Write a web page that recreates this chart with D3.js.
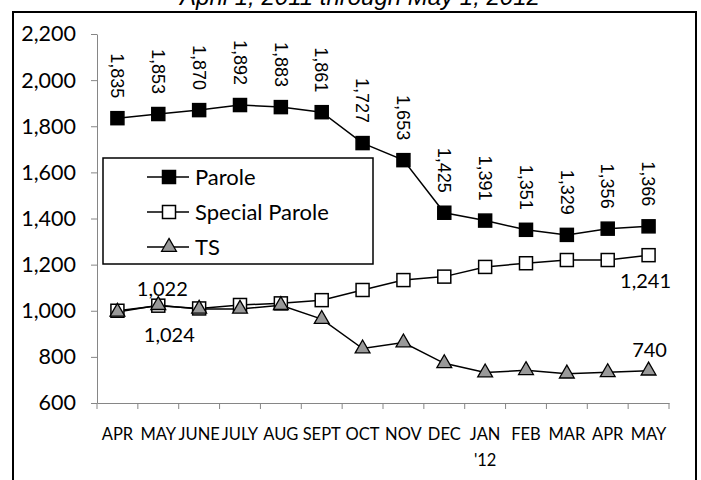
<!DOCTYPE html>
<meta charset="utf-8">
<style>

body {
  margin: 0;
  background: #fff;
}

.frame {
  fill: none;
  stroke: #000;
  stroke-width: 2px;
}

.axis path,
.axis line {
  stroke: #868686;
  stroke-width: 1px;
  fill: none;
}

.axis text {
  font-family: Lato, "Open Sans", sans-serif;
  fill: #000;
}

.series {
  fill: none;
  stroke: #000;
  stroke-width: 1.5px;
}

.lbl {
  font-family: Lato, sans-serif;
  font-size: 20px;
  fill: #000;
}

.rot {
  font-family: "Liberation Sans", Arial, sans-serif;
  font-size: 18px;
  fill: #000;
}

</style>
<script src="https://d3js.org/d3.v7.min.js"></script>
<body>
<script>

var width = 701,
    height = 480;

var months = ["APR", "MAY", "JUNE", "JULY", "AUG", "SEPT", "OCT", "NOV", "DEC", "JAN|'12", "FEB", "MAR", "APR", "MAY"];

var parole = [1835, 1853, 1870, 1892, 1883, 1861, 1727, 1653, 1425, 1391, 1351, 1329, 1356, 1366];
var specialParole = [1000, 1022, 1010, 1025, 1032, 1046, 1090, 1133, 1148, 1190, 1206, 1220, 1220, 1241];
var ts = [995, 1024, 1008, 1008, 1024, 964, 836, 862, 772, 732, 742, 727, 733, 740];

var yTicks = [600, 800, 1000, 1200, 1400, 1600, 1800, 2000, 2200];
var legendNames = ["Parole", "Special Parole", "TS"];
var title = "April 1, 2011 through May 1, 2012";

var svg = d3.select("body").append("svg")
    .attr("width", width)
    .attr("height", height);

svg.append("rect")
    .attr("class", "frame")
    .attr("x", 13)
    .attr("y", 12)
    .attr("width", 683)
    .attr("height", 480);

// title, cut off by the top edge as in the original
svg.append("text")
    .attr("x", 360)
    .attr("y", 5)
    .attr("text-anchor", "middle")
    .style("font-family", "'Liberation Sans', Arial, sans-serif")
    .style("font-style", "italic")
    .style("font-size", "24px")
    .text(title);

var x = d3.scaleBand()
    .domain(d3.range(months.length))
    .range([97, 669]);

var y = d3.scaleLinear()
    .domain([600, 2200])
    .range([403, 34]);

var cx = function(i) { return x(i) + x.bandwidth() / 2; };

// y axis
var yAxis = svg.append("g")
    .attr("class", "axis")
    .attr("transform", "translate(97,0)")
    .call(d3.axisLeft(y).tickValues(yTicks).tickFormat(d3.format(",")).tickSize(6).tickSizeOuter(0).tickPadding(15));
yAxis.selectAll("text").style("font-size", "21.5px");

// x axis (labels only, ticks between categories)
var xAxis = svg.append("g")
    .attr("class", "axis")
    .attr("transform", "translate(0,403)")
    .call(d3.axisBottom(x).tickSize(0).tickSizeOuter(0).tickFormat(""));

xAxis.selectAll(".between")
    .data(d3.range(months.length + 1))
  .enter().append("line")
    .attr("x1", function(i) { return i < months.length ? x(i) : x.range()[1]; })
    .attr("x2", function(i) { return i < months.length ? x(i) : x.range()[1]; })
    .attr("y1", 0)
    .attr("y2", 6);

var xl = xAxis.selectAll(".mlbl")
    .data(months)
  .enter().append("text")
    .attr("text-anchor", "middle")
    .style("font-size", "16.5px")
    .attr("transform", function(d, i) { return "translate(" + cx(i) + ",37)"; });

xl.selectAll("tspan")
    .data(function(d) { return d.split("|"); })
  .enter().append("tspan")
    .attr("x", 0)
    .attr("dy", function(d, j) { return j ? 26 : 0; })
    .text(function(d) { return d; });

// series
var line = d3.line()
    .x(function(d, i) { return cx(i); })
    .y(function(d) { return y(d); });

[parole, specialParole, ts].forEach(function(s) {
  svg.append("path")
      .datum(s)
      .attr("class", "series")
      .attr("d", line);
});

var sq = 13;

function squares(data, fill) {
  svg.selectAll(null)
      .data(data)
    .enter().append("rect")
      .attr("x", function(d, i) { return cx(i) - sq / 2; })
      .attr("y", function(d) { return y(d) - sq / 2; })
      .attr("width", sq)
      .attr("height", sq)
      .attr("fill", fill)
      .attr("stroke", "#000")
      .attr("stroke-width", 1.5);
}

var tri = d3.symbol().type(d3.symbolTriangle).size(95);

squares(specialParole, "#fff");

svg.selectAll(null)
    .data(ts)
  .enter().append("path")
    .attr("d", tri)
    .attr("transform", function(d, i) { return "translate(" + cx(i) + "," + y(d) + ")"; })
    .attr("fill", "#999")
    .attr("stroke", "#000")
    .attr("stroke-width", 1.3);

squares(parole, "#000");

// parole labels (rotated)
svg.selectAll(null)
    .data(parole)
  .enter().append("text")
    .attr("class", "rot")
    .attr("text-anchor", "end")
    .attr("dy", "0.35em")
    .attr("transform", function(d, i) { return "translate(" + cx(i) + "," + (y(d) - 20) + ") rotate(90)"; })
    .text(d3.format(","));

// other labels
var fmt = d3.format(",");
svg.append("text").attr("class", "lbl").attr("text-anchor", "middle")
    .attr("x", cx(1) + 4).attr("y", y(specialParole[1]) - 10).text(fmt(specialParole[1]));
svg.append("text").attr("class", "lbl").attr("text-anchor", "middle")
    .attr("x", cx(1) + 11).attr("y", y(ts[1]) + 37).text(fmt(ts[1]));
svg.append("text").attr("class", "lbl").attr("text-anchor", "middle")
    .attr("x", cx(13) - 3).attr("y", y(specialParole[13]) + 33).text(fmt(specialParole[13]));
svg.append("text").attr("class", "lbl").attr("text-anchor", "middle")
    .attr("x", cx(13) + 1).attr("y", y(ts[13]) - 14).text(fmt(ts[13]));

// legend
var legend = svg.append("g");

legend.append("rect")
    .attr("x", 103)
    .attr("y", 158)
    .attr("width", 270)
    .attr("height", 106)
    .attr("fill", "#fff")
    .attr("stroke", "#000")
    .attr("stroke-width", 1.5);

var item = legend.selectAll(".item")
    .data(legendNames)
  .enter().append("g")
    .attr("transform", function(d, i) { return "translate(169," + (177 + i * 35) + ")"; });

item.append("line")
    .attr("x1", -22).attr("x2", 20)
    .attr("stroke", "#000")
    .attr("stroke-width", 1.5);

item.each(function(d, i) {
  var g = d3.select(this);
  if (i < 2) {
    g.append("rect")
        .attr("x", -sq / 2).attr("y", -sq / 2)
        .attr("width", sq).attr("height", sq)
        .attr("fill", i === 0 ? "#000" : "#fff")
        .attr("stroke", "#000")
        .attr("stroke-width", 1.5);
  } else {
    g.append("path")
        .attr("d", tri)
        .attr("fill", "#999")
        .attr("stroke", "#000")
        .attr("stroke-width", 1.3);
  }
});

item.append("text")
    .attr("class", "lbl")
    .style("font-size", "22px")
    .attr("x", 26)
    .attr("dy", "0.35em")
    .text(function(d) { return d; });

</script>
